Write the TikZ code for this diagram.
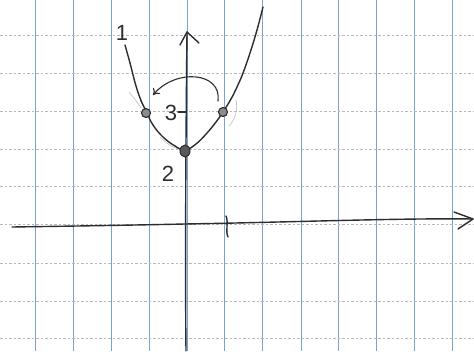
\documentclass[tikz,border=0pt]{standalone}
\usepackage{fontspec}
\setmainfont{Liberation Sans}
\usetikzlibrary{arrows.meta,shapes.geometric}
\definecolor{gridblue}{RGB}{120,162,208}
\definecolor{pen}{RGB}{45,45,45}
\begin{document}
\begin{tikzpicture}[x=1pt,y=-1pt,
  ink/.style={draw=pen,line width=1.4pt,line cap=round,line join=round},
  vgrid/.style={draw=gridblue,line width=1pt},
  hgrid/.style={draw=black!28,line width=0.7pt,dash pattern=on 2.5pt off 2pt},
  pt/.style={circle,draw=pen,fill=black!45,line width=1.1pt,inner sep=0pt,minimum size=9pt},
  vtx/.style={ellipse,draw=pen,fill=black!65,line width=1pt,inner sep=0pt,minimum width=10pt,minimum height=12pt},
  lbl/.style={font=\fontsize{22}{22}\selectfont,text=pen,inner sep=0pt},
  faint/.style={draw=black!25,line width=0.6pt}]
\useasboundingbox (0,0) rectangle (474,351);
\fill[white] (0,0) rectangle (474,351);
% grid
\foreach \gx in {35.5,73.5,111.5,149.5,187.5,224.5,262.5,301.5,338.5,376.5,414.5,452.5}
  \draw[vgrid] (\gx,0) -- (\gx,351);
\foreach \gy in {35.5,73.5,111.5,149.5,186.5,224.5,263.5,301.5,338.5}
  \draw[hgrid] (0,\gy) -- (474,\gy);
% axes coordinates
\coordinate (xs) at (12,227);
\coordinate (xm) at (185,224);
\coordinate (xe) at (473,219);
\coordinate (xw1) at (454,212);
\coordinate (xw2) at (458,229);
\coordinate (ys) at (186,351);
\coordinate (ye) at (187,32);
\coordinate (yw1) at (180,45);
\coordinate (yw2) at (199,43);
% x-axis
\draw[ink] (xs) .. controls (80,226) and (140,225) .. (xm) .. controls (300,222) and (400,218) .. (xe);
\draw[ink] (xw1) -- (xe) -- (xw2);
% y-axis
\draw[ink] (ys) .. controls (185,260) and (186,120) .. (ye);
\draw[ink] (yw1) -- (ye) -- (yw2);
% tick on x-axis
\coordinate (t1) at (226,216);
\coordinate (t2) at (228,237);
\draw[ink] (t1) .. controls (229,224) and (225,230) .. (t2);
% tick on y-axis
\coordinate (ty1) at (178,112);
\coordinate (ty2) at (186,112);
\draw[ink,line width=1.1pt] (ty1) -- (ty2);
% faint eraser marks
\draw[faint] (129,92) .. controls (134,98) and (138,103) .. (141,108);
\draw[faint] (236,100) .. controls (238,110) and (235,120) .. (229,126);
\draw[faint] (160,137) .. controls (166,143) and (172,147) .. (178,149);
% parabola
\draw[ink] plot[smooth,tension=0.7] coordinates {(125,45) (130,63) (136,86) (142,103) (147,113) (153,125) (163,137) (175,146) (185,150) (196,144) (207,133) (216,122) (223,112) (231,99) (237,87) (243,73) (250,53) (257,30) (263,7)};
% points
\node[pt] (pl) at (146,113) {};
\node[pt] (pr) at (223,112) {};
\node[vtx] (pv) at (185,151) {};
% curved arrow
\coordinate (as) at (218,101);
\coordinate (ae) at (153,95);
\draw[ink,line width=1.1pt,-{To[length=6pt,width=9pt]}] (as) .. controls (222,72) and (176,68) .. (ae);
% labels
\node[lbl] (l3) at (171,113) {3};
\node[lbl] (l2) at (168,174) {2};
\node[lbl] (l1) at (122,33) {1};
\end{tikzpicture}
\end{document}
